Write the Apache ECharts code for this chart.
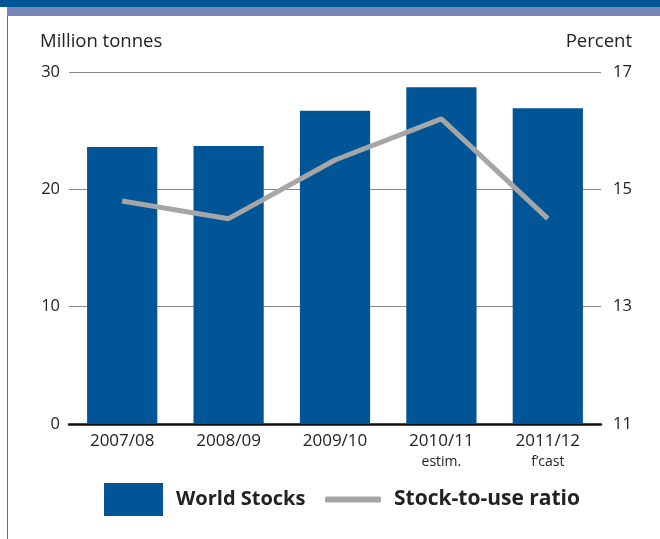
<!DOCTYPE html>
<html><head><meta charset="utf-8">
<script src="https://cdn.jsdelivr.net/npm/echarts@6/dist/echarts.min.js"></script>
<style>html,body{margin:0;padding:0;background:#fff}#c{width:660px;height:539px}</style>
</head><body><div id="c"></div>
<script>
const categories = ['2007/08', '2008/09', '2009/10', '2010/11', '2011/12'];
const categoryNotes = ['', '', '', 'estim.', 'f\u2019cast'];
const worldStocks = [23.6, 23.7, 26.7, 28.7, 26.9];
const stockToUse = [14.8, 14.5, 15.5, 16.2, 14.5];
const leftTicks = [0, 10, 20, 30];
const rightTicks = [11, 13, 15, 17];

const FONT = '"Open Sans", "Noto Sans", sans-serif';
const chart = echarts.init(document.getElementById('c'), null, {renderer: 'canvas'});
chart.setOption({
  animation: false,
  backgroundColor: '#fff',
  textStyle: {fontFamily: FONT},
  graphic: [
    {type: 'rect', shape: {x: 0, y: 0, width: 660, height: 7}, style: {fill: '#005597'}},
    {type: 'rect', shape: {x: 7, y: 7, width: 653, height: 9}, style: {fill: '#7787b7'}},
    {type: 'line', shape: {x1: 7.5, y1: 16, x2: 7.5, y2: 539}, style: {stroke: '#4d6f96', lineWidth: 1}},
    {type: 'text', left: 40, top: 32, style: {text: 'Million tonnes', font: '18.5px ' + FONT, fill: '#222'}},
    {type: 'text', right: 28, top: 32, style: {text: 'Percent', font: '18.5px ' + FONT, fill: '#222'}}
  ],
  legend: [
    {data: [{name: 'World Stocks', icon: 'rect'}], left: 104, top: 483, padding: 0, itemWidth: 59, itemHeight: 33, itemGap: 10,
     textStyle: {fontSize: 20, fontWeight: 'bold', color: '#222', fontFamily: FONT, padding: [0, 0, 0, 8]}},
    {data: [{name: 'Stock-to-use ratio', icon: 'roundRect'}], left: 325, top: 489, padding: 0, itemWidth: 56, itemHeight: 6, itemGap: 10,
     itemStyle: {color: '#a6a6a6'}, lineStyle: {width: 0},
     textStyle: {fontSize: 21, fontWeight: 'bold', color: '#222', fontFamily: FONT, padding: [0, 0, 0, 8]}}
  ],
  grid: {left: 69, right: 59, top: 72, bottom: 115, containLabel: false},
  xAxis: {
    type: 'category', data: categories,
    axisLine: {show: true, lineStyle: {color: '#111', width: 2.5}},
    axisTick: {show: false},
    axisLabel: {
      margin: 7, color: '#222', fontSize: 17, lineHeight: 20,
      formatter: function (v, i) {
        return categoryNotes[i] ? v + '\n{s|' + categoryNotes[i] + '}' : v;
      },
      rich: {s: {fontSize: 14, color: '#222', lineHeight: 22, fontFamily: FONT}}
    }
  },
  yAxis: [
    {type: 'value', min: 0, max: 30, interval: 10, position: 'left',
     axisLine: {show: false}, axisTick: {show: false},
     axisLabel: {color: '#222', fontSize: 16.5, margin: 9, formatter: v => leftTicks.includes(v) ? String(v) : ''},
     splitLine: {show: true, lineStyle: {color: '#8a8a8a', width: 1}}},
    {type: 'value', min: 11, max: 17, interval: 2, position: 'right',
     axisLine: {show: false}, axisTick: {show: false},
     axisLabel: {color: '#222', fontSize: 16.5, margin: 12, formatter: v => rightTicks.includes(v) ? String(v) : ''},
     splitLine: {show: false}}
  ],
  series: [
    {name: 'World Stocks', type: 'bar', data: worldStocks, yAxisIndex: 0, barCategoryGap: '34%',
     itemStyle: {color: '#005597'}, z: 2},
    {name: 'Stock-to-use ratio', type: 'line', data: stockToUse, yAxisIndex: 1, symbol: 'none',
     lineStyle: {color: '#a6a6a6', width: 5}, itemStyle: {color: '#a6a6a6'}, z: 3}
  ]
});
</script></body></html>
